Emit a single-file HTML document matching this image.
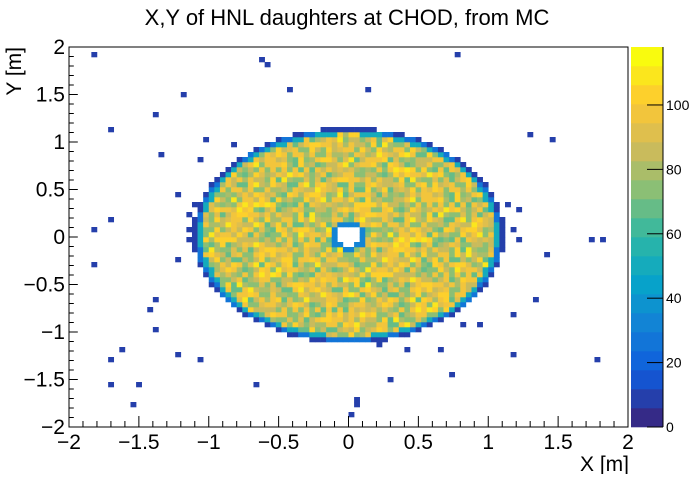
<!DOCTYPE html>
<html><head><meta charset="utf-8"><style>
body{margin:0;background:#fff;}
svg text{font-family:"Liberation Sans",sans-serif;}
</style></head><body>
<svg id="c" width="698" height="474"></svg>
<script>
// data
const nBinsX = 100, nBinsY = 76;
const xRange = [-2, 2], yRange = [-2, 2];
const zMax = 118;
const diskCenter = [0.0, 0.02], diskRadius = [1.08, 1.1];
const holeCenter = [0.0, 0.01], holeRadius = [0.1, 0.11];
const edgeProfileR = [0.965, 0.99, 1.01, 1.03];
const edgeProfileV = [75, 50, 25, 8];
const texture = [88,95,74,102,84,70,110,80,97,72,86,104,90,76,99,93,68,100,87,78,96,106,71];
const outlierX = [-1.83,-0.62,-0.58,0.78,-1.18,-0.42,0.14,-1.39,-1.71,-1.03,-0.81,-1.35,1.3,1.45,-1.06,-1.24,-1.11,-1.16,-1.71,-1.83,1.23,1.13,-1.16,-1.16,1.18,1.23,1.82,1.73,1.41,-1.83,-1.22,1.35,1.19,-1.36,-1.42,-1.38,-1.63,-1.71,-1.22,-1.06,0.21,0.4,0.67,0.81,0.94,1.17,1.78,0.73,0.3,-1.71,-1.5,-0.65,-1.55,0.05,0.05,0.01];
const outlierY = [1.92,1.86,1.81,1.94,1.52,1.57,1.55,1.31,1.12,1.02,0.99,0.86,1.06,1.02,0.79,0.47,0.34,0.24,0.2,0.09,0.31,0.36,0.09,-0.03,0.07,-0.03,-0.01,-0.05,-0.21,-0.29,-0.26,-0.64,-0.8,-0.66,-0.77,-0.98,-1.21,-1.28,-1.24,-1.27,-1.13,-1.19,-1.2,-0.92,-0.9,-1.24,-1.27,-1.45,-1.52,-1.55,-1.56,-1.56,-1.77,-1.69,-1.76,-1.88];
const outlierV = 8;
const xTicks = [-2,-1.5,-1,-0.5,0,0.5,1,1.5,2];
const xTickLabels = ["−2","−1.5","−1","−0.5","0","0.5","1","1.5","2"];
const yTicks = [-2,-1.5,-1,-0.5,0,0.5,1,1.5,2];
const yTickLabels = ["−2","−1.5","−1","−0.5","0","0.5","1","1.5","2"];
const zTicks = [0,20,40,60,80,100];

const L=69,R=628,T=47,B=427, ZL=631, ZR=663;
const sx = v => L + (v - xRange[0]) / (xRange[1]-xRange[0]) * (R-L);
const sy = v => B - (v - yRange[0]) / (yRange[1]-yRange[0]) * (B-T);
const sz = v => B - v / zMax * (B-T);
const stops=[[0,.2082,.1664,.5293],[.125,.0592,.3599,.8684],[.25,.0780,.5041,.8385],[.375,.0232,.6419,.7914],[.5,.1802,.7178,.6425],[.625,.5301,.7492,.4662],[.75,.8186,.7328,.3499],[.875,.9956,.7862,.1968],[1,.9764,.9832,.0539]];
function col(v){
  let f=Math.max(0,Math.min(1,v/zMax)); f=Math.min(19,Math.floor(f*20))/19;
  for(let i=1;i<stops.length;i++){ if(f<=stops[i][0]){const a=stops[i-1],b=stops[i],t=(f-a[0])/(b[0]-a[0]);
    return `rgb(${[1,2,3].map(k=>Math.round(255*(a[k]+t*(b[k]-a[k])))).join(',')})`;}}
  return 'rgb(249,251,14)';
}
const NS='http://www.w3.org/2000/svg', svg=document.getElementById('c');
function mk(tag,at,parent){const e=document.createElementNS(NS,tag);for(const k in at)e.setAttribute(k,at[k]);(parent||svg).appendChild(e);return e;}
const cells=mk('g',{});


const dx=(xRange[1]-xRange[0])/nBinsX, dy=(yRange[1]-yRange[0])/nBinsY;
function cell(i,j,v){
  const x0=xRange[0]+i*dx, y0=yRange[0]+j*dy;
  const r=mk('rect',{x:sx(x0),y:sy(y0+dy),width:sx(x0+dx)-sx(x0)+0.3,height:sy(y0)-sy(y0+dy)+0.3,fill:col(v)},cells);
  
  
}
for(let i=0;i<nBinsX;i++)for(let j=0;j<nBinsY;j++){
  const cx=xRange[0]+(i+.5)*dx, cy=yRange[0]+(j+.5)*dy;
  const rn=Math.hypot((cx-diskCenter[0])/diskRadius[0],(cy-diskCenter[1])/diskRadius[1]);
  const hn=Math.hypot((cx-holeCenter[0])/holeRadius[0],(cy-holeCenter[1])/holeRadius[1]);
  if(rn>edgeProfileR[3]||hn<1)continue;
  let v=texture[(i*13+j*29+((i*j)%7))%texture.length];
  if(hn<1.35)v=30;
  if(rn>edgeProfileR[0]){let k=0;while(k<3&&rn>edgeProfileR[k+1])k++;v=Math.min(v,edgeProfileV[k+1]);}
  cell(i,j,v);
}
for(let k=0;k<outlierX.length;k++){
  cell(Math.floor((outlierX[k]-xRange[0])/dx),Math.floor((outlierY[k]-yRange[0])/dy),outlierV);
}
// frame & axes
const fr=mk('rect',{x:L,y:T,width:R-L,height:B-T,fill:'none',stroke:'#000','stroke-width':1});


for(let v=-2;v<=2.001;v+=0.1){
  const major=Math.abs(v*2-Math.round(v*2))<1e-6, len=major?11:6;
  mk('line',{x1:sx(v),x2:sx(v),y1:B,y2:B-len,stroke:'#000'});
  mk('line',{x1:L,x2:L+len*0.8,y1:sy(v),y2:sy(v),stroke:'#000'});
}
xTicks.forEach((v,k)=>{const t=mk('text',{x:sx(v),y:B+22,'text-anchor':'middle','font-size':21});t.textContent=xTickLabels[k];
  
  });
yTicks.forEach((v,k)=>{const t=mk('text',{x:L-4,y:sy(v)+7,'text-anchor':'end','font-size':21});t.textContent=yTickLabels[k];
  
  });
// color bar
for(let b=0;b<20;b++){const v0=b*zMax/20,v1=(b+1)*zMax/20;
  const r=mk('rect',{x:ZL,y:sz(v1),width:ZR-ZL,height:sz(v0)-sz(v1)+0.3,fill:col(v0+0.01)});
  
  }
zTicks.forEach(v=>{mk('line',{x1:ZR-16,x2:ZR,y1:sz(v),y2:sz(v),stroke:'#000'});
  const t=mk('text',{x:ZR+3,y:sz(v)+5,'font-size':14});t.textContent=v;
  
  });
mk('line',{x1:ZR,x2:ZR,y1:T,y2:B,stroke:'#000'});
const ti=mk('text',{x:347,y:25,'text-anchor':'middle','font-size':22});ti.textContent='X,Y of HNL daughters at CHOD, from MC';


const xl=mk('text',{x:629,y:471,'text-anchor':'end','font-size':21});xl.textContent='X [m]';


const yl=mk('text',{x:0,y:0,'text-anchor':'end','font-size':21,transform:'translate(21,47) rotate(-90)'});yl.textContent='Y [m]';


</script>
</body></html>
